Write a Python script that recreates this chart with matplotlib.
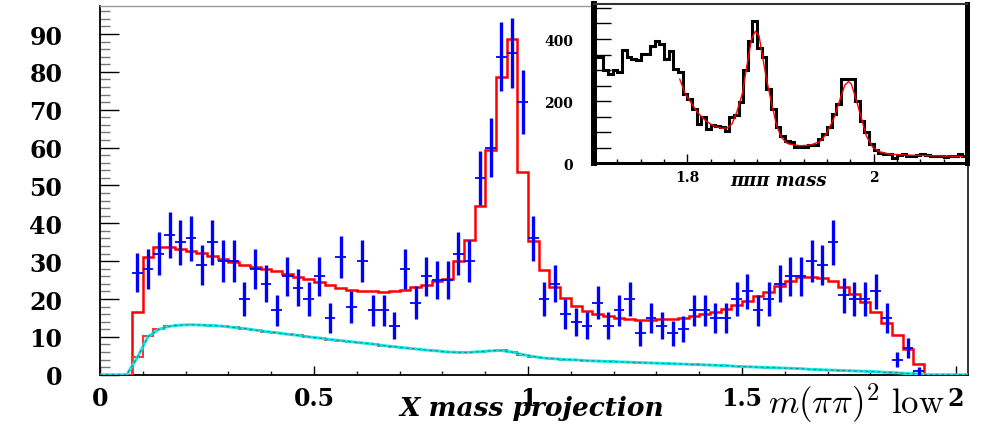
import numpy as np
import matplotlib
matplotlib.use("Agg")
import matplotlib.pyplot as plt
from matplotlib.ticker import MultipleLocator, FixedLocator, FuncFormatter

plt.rcParams["font.family"] = ["DejaVu Serif"]
plt.rcParams["font.weight"] = "bold"
plt.rcParams["mathtext.fontset"] = "cm"

# ---------------- main histogram: m(pi pi)^2 low ----------------
bin_width = 0.025
first_edge = 0.075
n_bins_total = 80  # 0 .. 2.0

data_counts = [27, 28, 32, 37, 35, 36, 29, 35, 30, 30,
               20, 28, 24, 17, 26, 23, 20, 26, 15, 31,
               18, 30, 17, 17, 13, 28, 19, 26, 25, 25,
               32, 30, 52, 60, 84, 85, 72, 36, 20, 24,
               16, 14, 13, 19, 13, 17, 20, 11, 15, 13,
               11, 12, 17, 17, 15, 15, 20, 22, 17, 20,
               24, 26, 26, 30, 29, 35, 21, 20, 20, 22,
               15, 4, 7, 1]

fit_total = [16.5, 31.0, 33.7, 33.7, 33.2, 32.8, 32.2, 31.3, 30.6, 29.9,
             29.1, 28.5, 27.9, 27.3, 26.6, 25.9, 25.3, 24.4, 23.7, 22.8,
             22.5, 22.2, 22.0, 21.9, 22.0, 22.3, 23.1, 23.7, 24.8, 25.3,
             30.1, 35.6, 44.5, 59.4, 78.7, 88.7, 53.6, 35.4, 27.7, 23.3,
             20.2, 18.1, 16.9, 16.0, 15.4, 15.0, 14.7, 14.5, 14.5, 14.7,
             14.7, 14.9, 15.4, 16.0, 16.6, 17.3, 18.4, 19.5, 20.9, 21.9,
             23.5, 24.8, 25.7, 25.9, 25.5, 24.8, 23.3, 21.3, 19.1, 16.6,
             13.6, 10.5, 6.8, 2.8]

fit_background = [4.6, 10.1, 12.0, 12.8, 13.1, 13.2, 13.1, 13.0, 12.8, 12.5,
                  12.2, 11.8, 11.4, 11.1, 10.7, 10.4, 10.0, 9.7, 9.3, 9.0,
                  8.7, 8.4, 8.1, 7.7, 7.4, 7.1, 6.8, 6.5, 6.3, 6.0,
                  5.9, 5.9, 6.1, 6.3, 6.4, 6.0, 5.3, 4.8, 4.4, 4.2,
                  4.0, 3.9, 3.7, 3.6, 3.5, 3.4, 3.3, 3.2, 3.1, 3.0,
                  2.9, 2.8, 2.7, 2.6, 2.5, 2.4, 2.2, 2.1, 2.0, 1.9,
                  1.8, 1.7, 1.6, 1.4, 1.3, 1.2, 1.1, 1.0, 0.9, 0.8,
                  0.6, 0.5, 0.3, 0.2]

# ---------------- inset: three-pion mass ----------------
inset_lo = 1.7
inset_bin = 0.005
inset_counts = [341, 341, 300, 288, 300, 295, 365, 341, 336, 333,
                352, 352, 379, 392, 384, 336, 363, 304, 293, 223,
                207, 175, 127, 148, 111, 123, 121, 116, 105, 148,
                156, 196, 300, 393, 457, 371, 341, 239, 175, 116,
                89, 73, 68, 52, 52, 54, 59, 60, 78, 94,
                116, 159, 191, 271, 271, 271, 202, 137, 100, 62,
                43, 35, 32, 30, 19, 27, 30, 23, 25, 27,
                30, 27, 25, 23, 23, 20, 23, 23, 29, 25]

inset_fit_x = [1.792, 1.798, 1.804, 1.811, 1.820, 1.828, 1.837, 1.843, 1.848,
               1.853, 1.859, 1.864, 1.869, 1.873, 1.877, 1.880, 1.885, 1.891,
               1.896, 1.901, 1.907, 1.910, 1.921, 1.932, 1.942, 1.949, 1.957,
               1.964, 1.969, 1.973, 1.976, 1.981, 1.987, 1.992, 1.999, 2.006,
               2.017, 2.035, 2.060, 2.095]
inset_fit_y = [271, 223, 196, 164, 137, 121, 113, 114, 127,
               164, 223, 314, 400, 425, 411, 357, 271, 186,
               121, 84, 65, 62, 57, 59, 70, 94, 143,
               207, 252, 263, 255, 207, 143, 89, 52, 38,
               30, 27, 25, 23]

# ---------------- figure ----------------
fig = plt.figure(figsize=(9.85, 4.27), dpi=100)
ax = fig.add_axes([0.1015, 0.1201, 0.8809, 0.8635])

n_lead = int(round(first_edge / bin_width))
n_trail = n_bins_total - n_lead - len(fit_total)
edges = np.arange(n_bins_total + 1) * bin_width
total_full = np.concatenate([np.zeros(n_lead), fit_total, np.zeros(n_trail)])
bg_full = np.concatenate([np.zeros(n_lead), fit_background, np.zeros(n_trail)])
centers = first_edge + bin_width * (np.arange(len(data_counts)) + 0.5)

ax.stairs(total_full, edges, color="#ff0000", lw=1.8, zorder=3)
ax.stairs(bg_full, edges, color="#ff3030", lw=1.4, zorder=3)

curve_x = np.concatenate([[0.0, first_edge - bin_width / 2], centers,
                          [centers[-1] + bin_width, 2.027]])
curve_y = np.concatenate([[0.0, 0.0], fit_background, [0.0, 0.0]])
ax.plot(curve_x, curve_y, color="#14e6e6", lw=2.1, zorder=4)
ax.plot(curve_x, curve_y, color="#333333", lw=0.7, ls=(0, (3, 3)), alpha=0.6, zorder=5)

counts = np.asarray(data_counts, dtype=float)
ax.errorbar(centers, counts, yerr=np.sqrt(counts), fmt="none",
            ecolor="#0000ff", elinewidth=2.4, capsize=0, zorder=6)
ax.errorbar(centers, counts, xerr=bin_width / 2, fmt="none",
            ecolor="#0000ff", elinewidth=1.3, capsize=0, zorder=6)

ax.set_xlim(0, 2.027)
ax.set_ylim(0, 97.4)

fmt_g = FuncFormatter(lambda v, p: f"{v:g}")
ax.xaxis.set_major_locator(MultipleLocator(0.5))
ax.xaxis.set_minor_locator(MultipleLocator(0.1))
ax.xaxis.set_major_formatter(fmt_g)
ax.yaxis.set_major_locator(MultipleLocator(10))
ax.yaxis.set_minor_locator(MultipleLocator(2))
ax.yaxis.set_major_formatter(fmt_g)

ax.tick_params(axis="y", which="major", direction="in", length=13.5, width=1.0,
               color="black", pad=27, labelsize=17)
ax.tick_params(axis="y", which="minor", direction="in", length=7.2, width=1.0,
               color="#777777")
ax.tick_params(axis="x", which="major", direction="in", length=6.5, width=1.0,
               color="black", pad=8, labelsize=17)
ax.tick_params(axis="x", which="minor", direction="in", length=3.0, width=1.0,
               color="#222222")

ax.spines["top"].set_color("#999999")
ax.spines["top"].set_linewidth(1.0)
ax.spines["right"].set_color("#333333")
ax.spines["right"].set_linewidth(1.4)
ax.spines["left"].set_linewidth(1.3)
ax.spines["bottom"].set_linewidth(1.3)

fig.text(532 / 985, 1 - 409 / 427, "X mass projection", ha="center", va="center",
         fontsize=19, fontweight="bold", fontstyle="italic", family="DejaVu Serif")
fig.text(768 / 985, 1 - 414 / 427, r"$m(\pi\pi)^2\ \mathrm{low}$", ha="left",
         va="baseline", fontsize=25)

# ---------------- inset ----------------
axi = fig.add_axes([0.6030, 0.6148, 0.3787, 0.3724])
axi.set_facecolor("white")
inset_edges = inset_lo + inset_bin * np.arange(len(inset_counts) + 1)
axi.stairs(inset_counts, inset_edges, color="black", lw=2.2, baseline=None)
axi.plot(inset_fit_x, inset_fit_y, color="#ff0000", lw=1.0)
axi.set_xlim(1.7, 2.1)
axi.set_ylim(0, 511)

axi.xaxis.set_major_locator(FixedLocator([1.8, 2.0]))
axi.xaxis.set_minor_locator(MultipleLocator(0.025))
axi.xaxis.set_major_formatter(fmt_g)
axi.yaxis.set_major_locator(MultipleLocator(200))
axi.yaxis.set_minor_locator(MultipleLocator(50))
axi.yaxis.set_major_formatter(fmt_g)
axi.tick_params(axis="y", which="both", direction="in", length=12, width=1.0,
                color="black", pad=15, labelsize=10)
axi.tick_params(axis="x", which="major", direction="in", length=6.5, width=1.0,
                pad=5, labelsize=10)
axi.tick_params(axis="x", which="minor", direction="in", length=3.0, width=1.0)

axi.spines["left"].set_linewidth(4.3)
axi.spines["right"].set_linewidth(3.6)
axi.spines["bottom"].set_linewidth(2.2)
axi.spines["top"].set_linewidth(1.5)
axi.spines["top"].set_color("#333333")

fig.text(779 / 985, 1 - 181 / 427, "πππ mass", ha="center", va="center",
         fontsize=13, fontweight="bold", fontstyle="italic", family="DejaVu Serif")

fig.savefig("out.png", dpi=100)
